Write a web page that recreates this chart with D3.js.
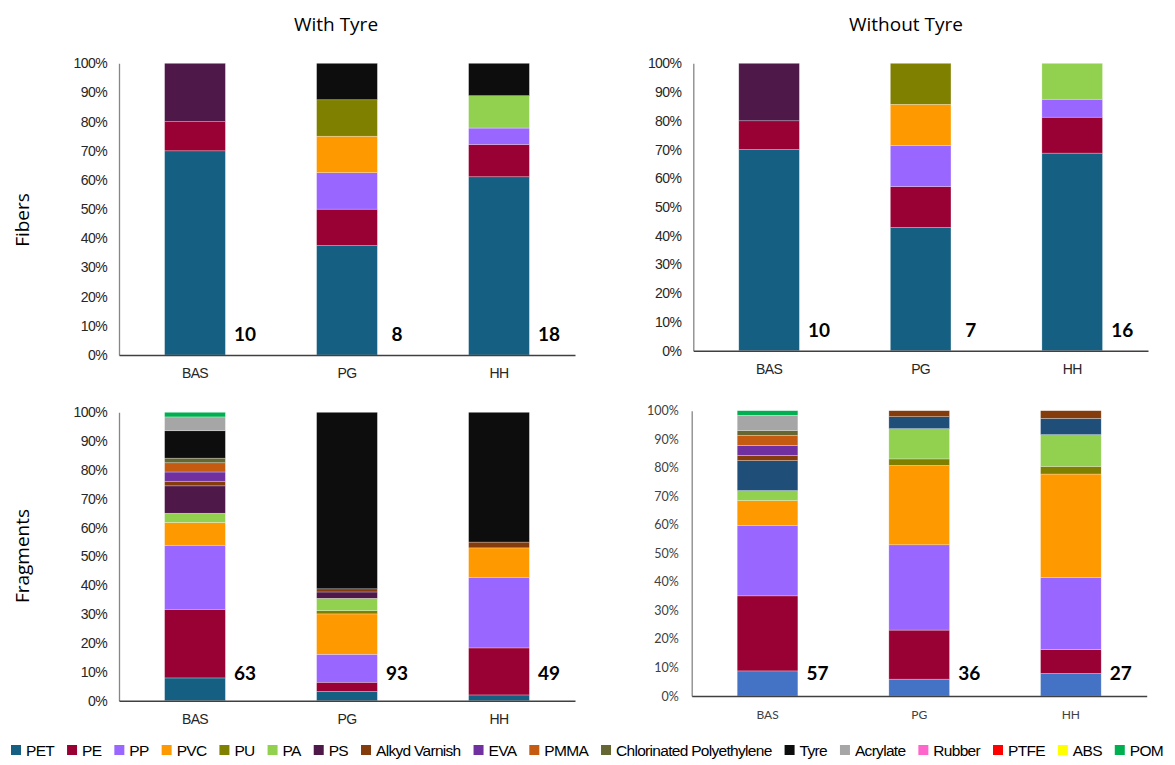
<!DOCTYPE html>
<html>
<head>
    <meta charset="UTF-8">
    <title>Polymer composition</title>
    <script src="https://d3js.org/d3.v7.min.js"></script>
    <style type="text/css">
        body { margin: 0; background: #fff; }
        svg { display: block; }
    </style>
</head>
<body>
<script type="text/javascript">
    // categories
    var materials = ["PET", "PE", "PP", "PVC", "PU", "PA", "PS", "Alkyd Varnish", "EVA", "PMMA",
        "Chlorinated Polyethylene", "Tyre", "Acrylate", "Rubber", "PTFE", "ABS", "POM"];
    var sites = ["BAS", "PG", "HH"];
    var yTicks = [0, 0.1, 0.2, 0.3, 0.4, 0.5, 0.6, 0.7, 0.8, 0.9, 1];

    // share of particles per polymer (%)
    var fibersWithTyre = [
        { site: "BAS", PET: 70, PE: 10, PS: 20 },
        { site: "PG", PET: 37.5, PE: 12.5, PP: 12.5, PVC: 12.5, PU: 12.5, Tyre: 12.5 },
        { site: "HH", PET: 61.1, PE: 11.1, PP: 5.6, PA: 11.1, Tyre: 11.1 }
    ];
    var fibersWithoutTyre = [
        { site: "BAS", PET: 70, PE: 10, PS: 20 },
        { site: "PG", PET: 42.9, PE: 14.3, PP: 14.3, PVC: 14.3, PU: 14.3 },
        { site: "HH", PET: 68.75, PE: 12.5, PP: 6.25, PA: 12.5 }
    ];
    var fragmentsWithTyre = [
        { site: "BAS", PET: 7.9, PE: 23.8, PP: 22.2, PVC: 7.9, PA: 3.2, PS: 9.5, "Alkyd Varnish": 1.6, EVA: 3.2, PMMA: 3.2, "Chlorinated Polyethylene": 1.6, Tyre: 9.5, Acrylate: 4.8, POM: 1.6 },
        { site: "PG", PET: 3.2, PE: 3.2, PP: 9.7, PVC: 14.0, PU: 1.1, PA: 4.3, PS: 2.2, "Alkyd Varnish": 1.1, Tyre: 61.2 },
        { site: "HH", PET: 2.0, PE: 16.3, PP: 24.5, PVC: 10.2, "Alkyd Varnish": 2.0, Tyre: 45.0 }
    ];
    var fragmentsWithoutTyre = [
        { site: "BAS", PET: 8.8, PE: 26.3, PP: 24.6, PVC: 8.8, PA: 3.5, PS: 10.5, "Alkyd Varnish": 1.8, EVA: 3.5, PMMA: 3.5, "Chlorinated Polyethylene": 1.8, Acrylate: 5.3, POM: 1.6 },
        { site: "PG", PET: 5.9, PE: 17.2, PP: 29.9, PVC: 27.8, PU: 2.3, PA: 10.6, PS: 4.2, "Alkyd Varnish": 2.1 },
        { site: "HH", PET: 7.9, PE: 8.4, PP: 25.3, PVC: 36.2, PU: 2.7, PA: 11.1, PS: 5.7, "Alkyd Varnish": 2.7 }
    ];

    // particle counts shown next to each bar
    var countsFibersWithTyre = [10, 8, 18];
    var countsFibersWithoutTyre = [10, 7, 16];
    var countsFragmentsWithTyre = [63, 93, 49];
    var countsFragmentsWithoutTyre = [57, 36, 27];

    var columnTitles = ["With Tyre", "Without Tyre"];
    var rowTitles = ["Fibers", "Fragments"];

    var colors = ["#156082", "#990033", "#9966ff", "#ff9900", "#808000", "#92d050", "#4e1848", "#843c0c",
        "#7030a0", "#c55a11", "#666633", "#0d0d0d", "#a6a6a6", "#ff66cc", "#ff0000", "#ffff00", "#00b050"];
    var color = d3.scaleOrdinal().domain(materials).range(colors);

    var W = 1175, H = 765;
    var svg = d3.select("body").append("svg")
        .attr("width", W)
        .attr("height", H);

    var arial = "'Liberation Sans', Arial, sans-serif";
    var calibri = "Lato, 'Open Sans', sans-serif";

    // panel frames (plot area of each chart)
    var panels = [
        { rows: fibersWithTyre, counts: countsFibersWithTyre, x0: 119, x1: 575, yTop: 63.3, yBot: 355, countDy: -14, excel: false },
        { rows: fibersWithoutTyre, counts: countsFibersWithoutTyre, x0: 693.3, x1: 1148, yTop: 63.3, yBot: 350.7, countDy: -14, excel: false },
        { rows: fragmentsWithTyre, counts: countsFragmentsWithTyre, x0: 119, x1: 575, yTop: 412.3, yBot: 700.7, countDy: -21, excel: false },
        { rows: fragmentsWithoutTyre, counts: countsFragmentsWithoutTyre, x0: 691.7, x1: 1146.7, yTop: 410.7, yBot: 696, countDy: -16, excel: true }
    ];

    var stack = d3.stack()
        .keys(materials)
        .value(function (d, k) { return d[k] || 0; })
        .offset(d3.stackOffsetExpand);

    panels.forEach(function (p) {
        var g = svg.append("g");

        var x = d3.scaleBand()
            .domain(sites)
            .range([p.x0, p.x1])
            .paddingInner(0.6)
            .paddingOuter(0.3);

        var y = d3.scaleLinear()
            .domain([0, 1])
            .range([p.yBot, p.yTop]);

        // the last chart uses other blues for PET and PS
        var fill = function (key) {
            if (p.excel && key === "PET") return "#4472c4";
            if (p.excel && key === "PS") return "#1f4e79";
            return color(key);
        };

        var series = stack(p.rows);

        g.selectAll("g.layer")
            .data(series)
            .enter().append("g")
            .attr("class", "layer")
            .attr("fill", function (d) { return fill(d.key); })
            .selectAll("rect")
            .data(function (d) { return d.filter(function (s) { return s[1] - s[0] > 0; }); })
            .enter().append("rect")
            .attr("x", function (d) { return x(d.data.site); })
            .attr("width", x.bandwidth())
            .attr("y", function (d) { return y(d[1]); })
            .attr("height", function (d) { return y(d[0]) - y(d[1]); })
            .attr("stroke", "rgba(255,255,255,0.45)")
            .attr("stroke-width", 0.6);

        // y axis
        var yAxis = d3.axisLeft(y)
            .tickValues(yTicks)
            .tickFormat(d3.format(".0%"))
            .tickSize(0)
            .tickPadding(p.excel ? 13 : 12);

        var ya = g.append("g")
            .attr("transform", "translate(" + p.x0 + ",0)")
            .call(yAxis);
        ya.select(".domain").attr("stroke", "#868686").attr("stroke-width", 1.3);
        ya.selectAll("text")
            .attr("fill", p.excel ? "#404040" : "#262626")
            .style("font-family", p.excel ? calibri : arial)
            .style("font-size", p.excel ? "12.5px" : "14px")
            .style("letter-spacing", p.excel ? "0px" : "-0.6px");

        // x axis
        var xAxis = d3.axisBottom(x)
            .tickSize(0)
            .tickPadding(p.excel ? 14 : 13);

        var xa = g.append("g")
            .attr("transform", "translate(0," + p.yBot + ")")
            .call(xAxis);
        xa.select(".domain").attr("stroke", "#404040").attr("stroke-width", 1.5);
        xa.selectAll("text")
            .attr("fill", p.excel ? "#404040" : "#262626")
            .style("font-family", p.excel ? calibri : arial)
            .style("font-size", p.excel ? "12px" : "14px")
            .style("letter-spacing", p.excel ? "0px" : "-0.6px");

        // counts next to the bars
        g.selectAll("text.count")
            .data(p.counts)
            .enter().append("text")
            .attr("class", "count")
            .attr("x", function (d, i) { return x(sites[i]) + x.bandwidth() / 2 + 50; })
            .attr("y", p.yBot + p.countDy)
            .attr("text-anchor", "middle")
            .style("font-family", calibri)
            .style("font-weight", "bold")
            .style("font-size", "19px")
            .attr("fill", "#000")
            .text(function (d) { return d; });
    });

    // column titles
    svg.selectAll("text.coltitle")
        .data(columnTitles)
        .enter().append("text")
        .attr("class", "coltitle")
        .attr("x", function (d, i) { return i === 0 ? 336 : 906; })
        .attr("y", 31)
        .attr("text-anchor", "middle")
        .style("font-family", "'Open Sans', sans-serif")
        .style("font-size", "19px")
        .attr("fill", "#000")
        .text(function (d) { return d; });

    // row titles
    svg.selectAll("text.rowtitle")
        .data(rowTitles)
        .enter().append("text")
        .attr("class", "rowtitle")
        .attr("transform", function (d, i) { return "translate(29," + (i === 0 ? 220 : 556) + ") rotate(-90)"; })
        .attr("text-anchor", "middle")
        .style("font-family", "'Open Sans', sans-serif")
        .style("font-size", "19px")
        .attr("fill", "#000")
        .text(function (d) { return d; });

    // legend, laid out in one row
    var legend = svg.append("g").attr("class", "legend");
    var items = legend.selectAll("g")
        .data(materials)
        .enter().append("g");

    items.append("rect")
        .attr("width", 10)
        .attr("height", 10)
        .attr("y", 745)
        .attr("fill", function (d) { return color(d); });

    items.append("text")
        .attr("x", 15)
        .attr("y", 755.5)
        .style("font-family", arial)
        .style("font-size", "15.5px")
        .style("letter-spacing", "-0.7px")
        .attr("fill", "#000")
        .text(function (d) { return d; });

    var widths = [];
    items.each(function () {
        widths.push(15 + d3.select(this).select("text").node().getComputedTextLength());
    });
    var legendLeft = 11, legendRight = 1163;
    var gap = (legendRight - legendLeft - d3.sum(widths)) / (materials.length - 1);
    var pos = legendLeft;
    items.attr("transform", function (d, i) {
        var t = "translate(" + pos + ",0)";
        pos += widths[i] + gap;
        return t;
    });
</script>
</body>
</html>
